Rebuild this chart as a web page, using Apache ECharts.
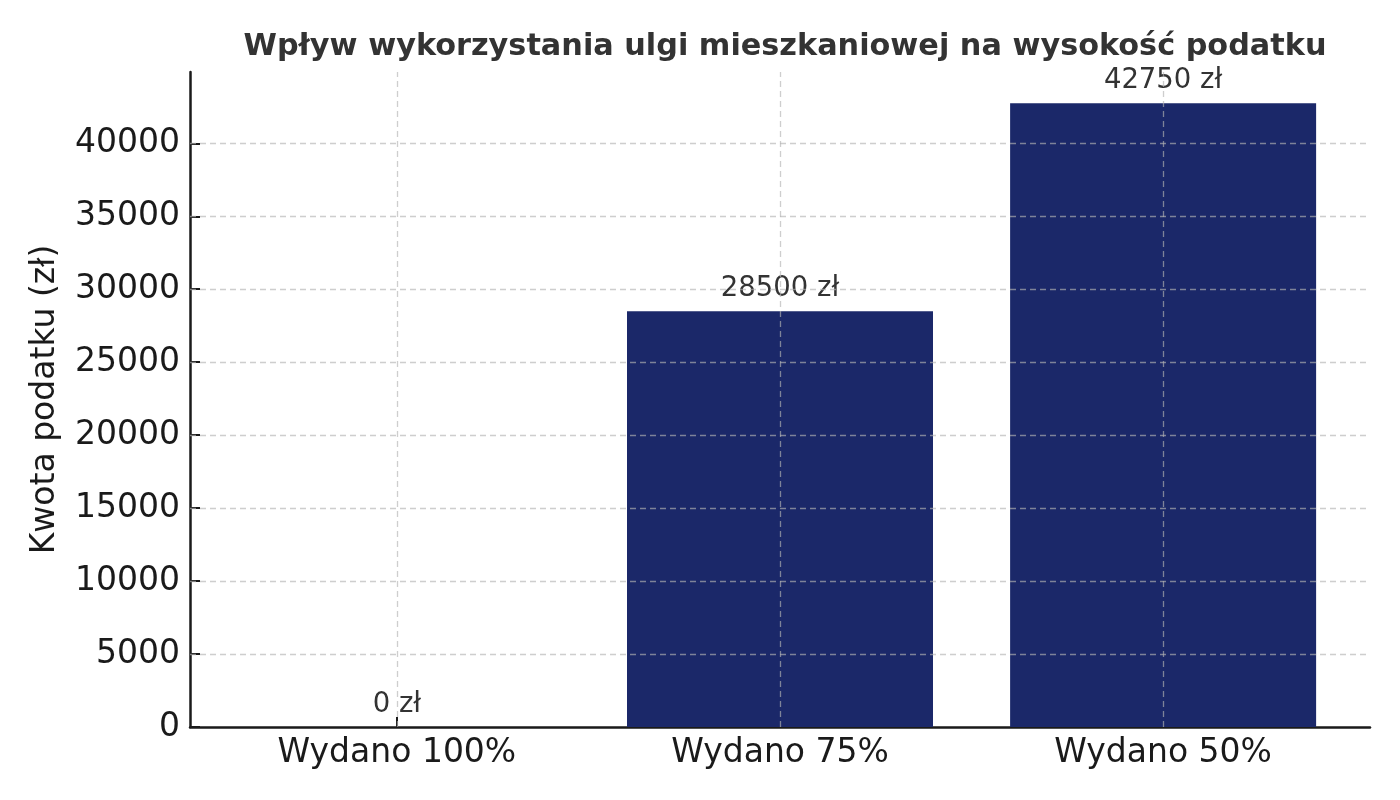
<!DOCTYPE html>
<html><head><meta charset="utf-8">
<script src="https://cdn.jsdelivr.net/npm/echarts@6/dist/echarts.min.js"></script>
<style>html,body{margin:0;padding:0;background:#fff}#c{width:1400px;height:800px}</style>
</head><body><div id="c"></div>
<script>
const categories = ['Wydano 100%', 'Wydano 75%', 'Wydano 50%'];
const taxValues = [0, 28500, 42750];
const yTicks = [0, 5000, 10000, 15000, 20000, 25000, 30000, 35000, 40000];

const chart = echarts.init(document.getElementById('c'));
const font = 'DejaVu Sans';
const gridColor = 'rgba(180,180,180,0.65)';
const catIdx = categories.map((c, i) => i);

chart.setOption({
  animation: false,
  title: {
    text: 'Wpływ wykorzystania ulgi mieszkaniowej na wysokość podatku',
    left: 780, top: 27, textAlign: 'center',
    textStyle: { fontFamily: font, fontSize: 30.3, fontWeight: 'bold', color: '#333' }
  },
  grid: { left: 190, right: 30, top: 72, bottom: 73 },
  xAxis: {
    type: 'value', min: -0.54, max: 2.54,
    axisLine: { show: true, onZero: false, lineStyle: { color: '#1a1a1a', width: 2.5 } },
    axisTick: { show: true, inside: true, length: 10, customValues: catIdx, lineStyle: { color: '#1a1a1a', width: 2 } },
    axisLabel: { show: true, customValues: catIdx, formatter: v => categories[Math.round(v)] || '',
      fontFamily: font, fontSize: 33, color: '#1a1a1a', margin: 10 },
    splitLine: { show: false }
  },
  yAxis: {
    type: 'value', min: 0, max: 44887.5, interval: 5000,
    name: 'Kwota podatku (zł)', nameLocation: 'middle', nameGap: 128, nameRotate: 90,
    nameTextStyle: { fontFamily: font, fontSize: 33, color: '#1a1a1a' },
    axisLine: { show: true, onZero: false, lineStyle: { color: '#1a1a1a', width: 2.5 } },
    axisTick: { show: true, inside: true, length: 10, customValues: yTicks, lineStyle: { color: '#1a1a1a', width: 2 } },
    axisLabel: { fontFamily: font, fontSize: 33, color: '#1a1a1a', margin: 10, customValues: yTicks,
      formatter: v => String(v) },
    splitLine: { show: false }
  },
  series: [{
    type: 'bar',
    barWidth: 306,
    data: taxValues.map((v, i) => [i, v]),
    itemStyle: { color: '#1b2869' },
    label: { show: true, position: 'top', distance: 8, formatter: p => p.value[1] + ' zł',
      fontFamily: font, fontSize: 27.5, color: '#333' },
    markLine: {
      silent: true, symbol: 'none', z: 10,
      label: { show: false },
      lineStyle: { color: gridColor, type: [6, 4], width: 1.3 },
      data: yTicks.slice(1).map(v => ({ yAxis: v })).concat(catIdx.map(i => ({ xAxis: i })))
    }
  }]
});
</script></body></html>
